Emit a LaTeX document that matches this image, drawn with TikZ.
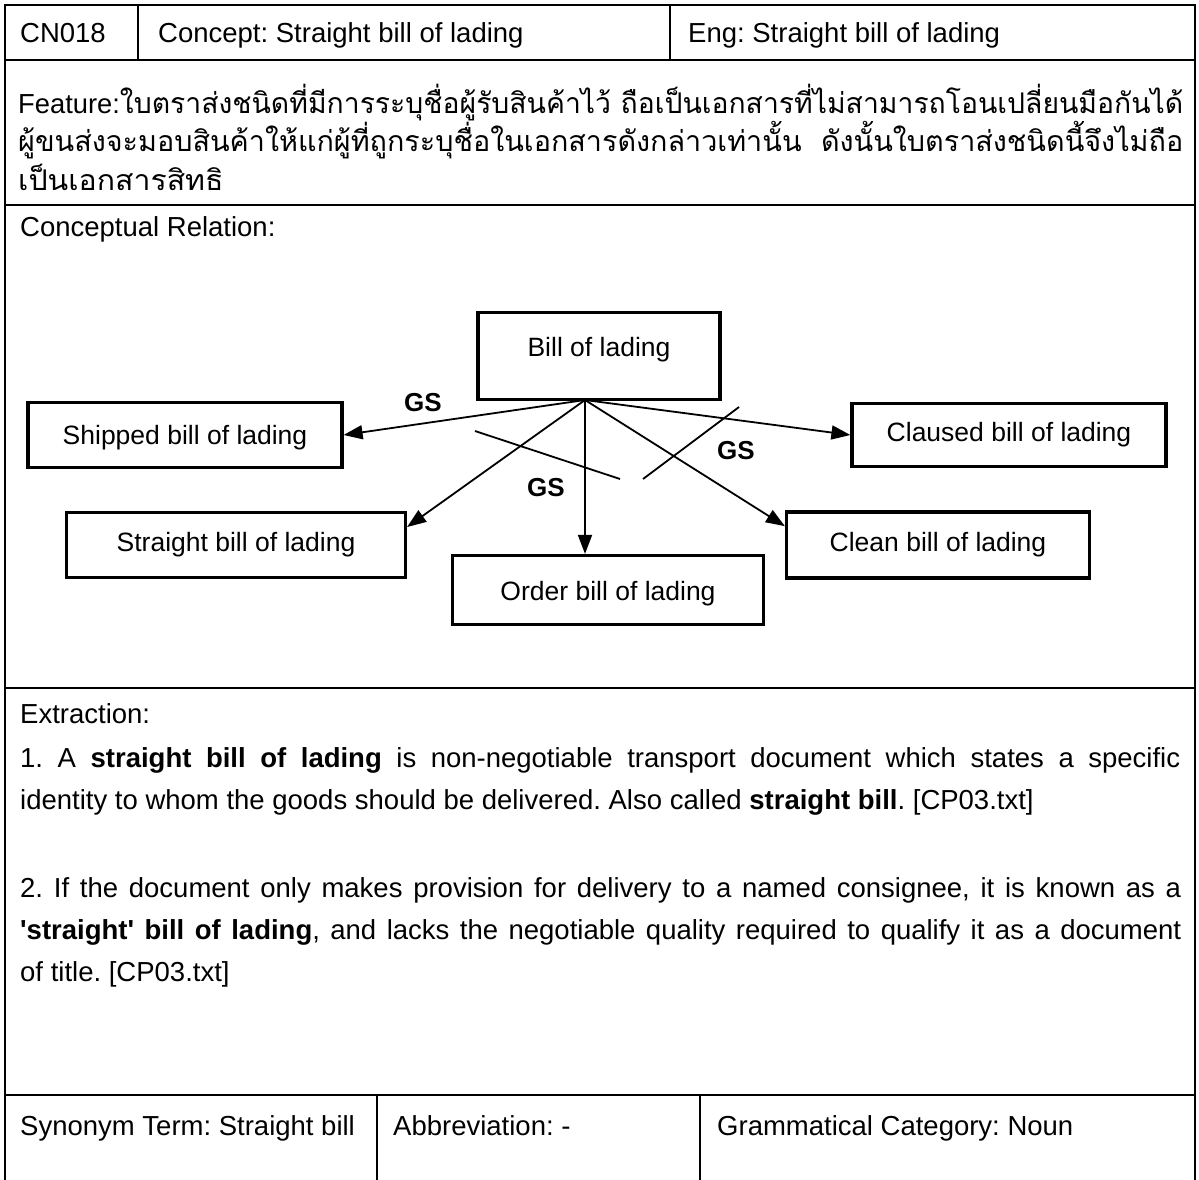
\documentclass[tikz,border=0pt]{standalone}
\usepackage{fontspec}
\setmainfont{Liberation Sans}
\newfontfamily\thaifont[Script=Thai]{Loma}
\usetikzlibrary{arrows.meta}
\frenchspacing
\begin{document}
\begin{tikzpicture}[x=1pt,y=-1pt,
  rule/.style={line width=2.6pt, line join=miter},
  cell/.style={anchor=base west, inner sep=0pt, font=\fontsize{27.5}{33}\selectfont},
  thai/.style={anchor=base west, inner sep=0pt, font=\fontsize{28.5}{34}\selectfont},
  cbox/.style={draw, line width=3.2pt, inner sep=0pt},
  ctext/.style={inner sep=0pt, font=\fontsize{26.5}{32}\selectfont},
  gs/.style={inner sep=0pt, font=\fontsize{26}{31}\selectfont\bfseries},
  arr/.style={line width=1.8pt, -{Triangle[length=19pt,width=14pt]}},
  stroke/.style={line width=1.8pt}]
\useasboundingbox (0,0) rectangle (1199,1180);
\fill[white] (0,0) rectangle (1199,1180);

% table frame and rules
\draw[rule] (5,1180) -- (5,5) -- (1195,5) -- (1195,1180);
\draw[rule] (5,60) -- (1195,60);
\draw[rule] (138,5) -- (138,60);
\draw[rule] (670,5) -- (670,60);
\draw[rule] (5,205) -- (1195,205);
\draw[rule] (5,688) -- (1195,688);
\draw[rule] (5,1095) -- (1195,1095);
\draw[rule] (377,1095) -- (377,1180);
\draw[rule] (700,1095) -- (700,1180);

% header row
\node[cell] (id) at (20,43) {CN018};
\node[cell] (concept) at (158,43) {Concept: Straight bill of lading};
\node[cell] (eng) at (688,43) {Eng: Straight bill of lading};

% feature
\node[thai] (feat1) at (18,114) {\resizebox{1165pt}{\height}{\fontsize{27.5}{33}\selectfont Feature:\fontsize{28.5}{34}\selectfont\thaifont ใบตราส่งชนิดที่มีการระบุชื่อผู้รับสินค้าไว้ ถือเป็นเอกสารที่ไม่สามารถโอนเปลี่ยนมือกันได้}};
\node[thai] (feat2) at (18,152) {\resizebox{1165pt}{\height}{\thaifont ผู้ขนส่งจะมอบสินค้าให้แก่ผู้ที่ถูกระบุชื่อในเอกสารดังกล่าวเท่านั้น\ \ ดังนั้นใบตราส่งชนิดนี้จึงไม่ถือ}};
\node[thai] (feat3) at (18,190) {\scalebox{1.06}[1]{\thaifont เป็นเอกสารสิทธิ}};

% conceptual relation
\node[cell] (rel) at (20,236) {Conceptual Relation:};

\node[cbox, minimum width=242pt, minimum height=87pt] (bill) at (599,356) {};
\node[ctext] (billtext) at ([yshift=6pt]bill.center) {Bill of lading};
\node[cbox, minimum width=314pt, minimum height=65pt] (ship) at (185,435) {};
\node[ctext] (shiptext) at ([yshift=-3pt]ship.center) {Shipped bill of lading};
\node[cbox, minimum width=314pt, minimum height=63pt] (claus) at (1009,435) {};
\node[ctext] (claustext) at (claus.center) {Claused bill of lading};
\node[cbox, minimum width=339pt, minimum height=65pt] (straight) at (236,545) {};
\node[ctext] (straighttext) at (straight.center) {Straight bill of lading};
\node[cbox, minimum width=303pt, minimum height=66pt] (clean) at (938,545) {};
\node[ctext] (cleantext) at (clean.center) {Clean bill of lading};
\node[cbox, minimum width=311pt, minimum height=69pt] (order) at (608,590) {};
\node[ctext] (ordertext) at ([yshift=-4pt]order.center) {Order bill of lading};

\coordinate (hub) at (585,400);
\draw[arr] (hub) -- (ship.east);
\draw[arr] (hub) -- (straight.6);
\draw[arr] (hub) -- (hub |- order.north);
\draw[arr] (hub) -- (clean.173);
\draw[arr] (hub) -- (claus.west);

\draw[stroke] (475,431) -- (620,479);
\draw[stroke] (643,479) -- (739,407);

\node[gs] (gs1) at (423,403) {GS};
\node[gs] (gs2) at (546,488) {GS};
\node[gs] (gs3) at (736,451) {GS};

% extraction
\node[cell] (ext) at (20,723) {Extraction:};
\node[cell] (e1a) at (20,767) {\makebox[1160pt][s]{1. A \textbf{straight bill of lading} is non-negotiable transport document which states a specific}};
\node[cell] (e1b) at (20,809) {identity to whom the goods should be delivered. Also called \textbf{straight bill}. [CP03.txt]};
\node[cell] (e2a) at (20,897) {\makebox[1161pt][s]{2. If the document only makes provision for delivery to a named consignee, it is known as a}};
\node[cell] (e2b) at (20,939) {\makebox[1161pt][s]{\textbf{\textquotesingle straight\textquotesingle{} bill of lading}, and lacks the negotiable quality required to qualify it as a document}};
\node[cell] (e2c) at (20,981) {of title. [CP03.txt]};

% bottom row
\node[cell] (syn) at (20,1135) {Synonym Term: Straight bill};
\node[cell] (abbr) at (393,1135) {Abbreviation: -};
\node[cell] (gram) at (717,1135) {Grammatical Category: Noun};
\end{tikzpicture}
\end{document}
